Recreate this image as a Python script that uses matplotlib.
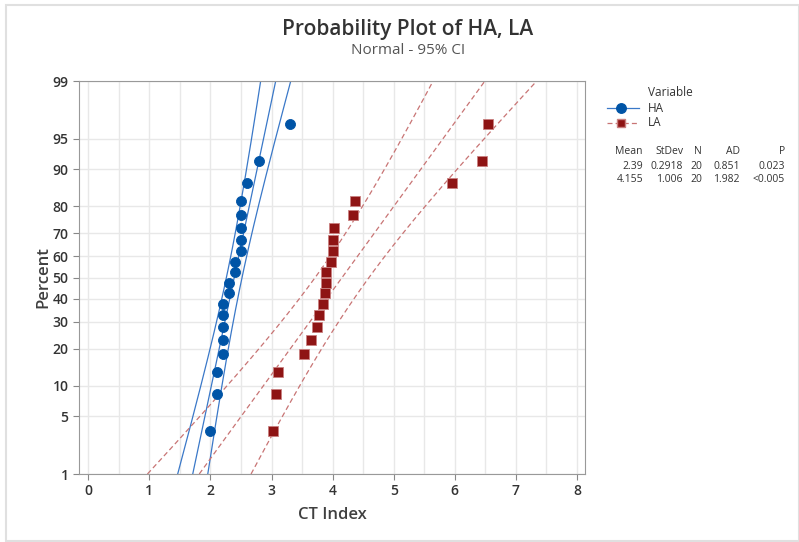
import numpy as np
import matplotlib
matplotlib.use("Agg")
import matplotlib.pyplot as plt
from matplotlib.patches import Rectangle
from statistics import NormalDist

# CT Index observations for the two groups
ha_values = [3.30, 2.80, 2.60, 2.50, 2.50, 2.50, 2.50, 2.50, 2.40, 2.40,
             2.30, 2.30, 2.20, 2.20, 2.20, 2.20, 2.20, 2.10, 2.10, 2.00]
la_values = [6.55, 6.45, 5.95, 4.37, 4.33, 4.02, 4.01, 4.00, 3.98, 3.90,
             3.89, 3.87, 3.85, 3.78, 3.75, 3.65, 3.54, 3.11, 3.08, 3.02]

series_names = ["HA", "LA"]
percent_ticks = [1, 5, 10, 20, 30, 40, 50, 60, 70, 80, 90, 95, 99]
x_ticks = [0, 1, 2, 3, 4, 5, 6, 7, 8]

# Goodness-of-fit summary shown beside the plot
table_header = ["Mean", "StDev", "N", "AD", "P"]
table_rows = [["2.39", "0.2918", "20", "0.851", "0.023"],
              ["4.155", "1.006", "20", "1.982", "<0.005"]]

nd = NormalDist()
z = np.vectorize(lambda p: nd.inv_cdf(p / 100.0))

font = ["Open Sans", "DejaVu Sans"]
plt.rcParams["font.family"] = font

fig = plt.figure(figsize=(7.99, 5.42), dpi=100)
ax = fig.add_axes([79 / 799, 1 - 474 / 542, (585 - 79) / 799, (474 - 81) / 542])

styles = {
    "HA": dict(marker="o", ms=7.2, mfc="#0054A6", mec="#0054A6",
               line="#3A78C8", ls="-", lw=0.9),
    "LA": dict(marker="s", ms=6.6, mfc="#8E1414", mec="#C98080",
               line="#C87474", ls=(0, (4, 2.5)), lw=0.9),
}

zlo, zhi = z(1), z(99)
zz = np.linspace(zlo, zhi, 200)

for name, vals in zip(series_names, [ha_values, la_values]):
    v = np.sort(np.array(vals))
    n = len(v)
    ranks = (np.arange(1, n + 1) - 0.3) / (n + 0.4) * 100
    mu = v.mean()
    sd = v.std(ddof=1)
    st = styles[name]
    fit = mu + sd * zz
    half = 1.96 * sd * np.sqrt(1.0 / n + zz ** 2 / (2.0 * n))
    for curve in (fit - half, fit, fit + half):
        ax.plot(curve, zz, color=st["line"], ls=st["ls"], lw=st["lw"], zorder=2)
    ax.plot(v, z(ranks), ls="none", marker=st["marker"], ms=st["ms"],
            mfc=st["mfc"], mec=st["mec"], mew=0.6, zorder=3)

ax.set_xlim(-0.15, 8.13)
ax.set_ylim(zlo, zhi)
ax.set_xticks(x_ticks)
ax.set_xticks(np.arange(0, 8.01, 0.5), minor=True)
ax.set_yticks(z(percent_ticks))
ax.set_yticklabels([str(p) for p in percent_ticks])
ax.grid(True, which="both", axis="x", color="#e8e8e8", lw=1.0, zorder=0)
ax.grid(True, which="major", axis="y", color="#e8e8e8", lw=1.0, zorder=0)
ax.tick_params(axis="x", which="minor", length=0)
ax.tick_params(axis="both", which="major", length=4, width=0.8, color="#888888",
               labelsize=10, labelcolor="#333333")
for lab in ax.get_xticklabels() + ax.get_yticklabels():
    lab.set_fontweight("semibold")
ax.set_axisbelow(True)
for s in ax.spines.values():
    s.set_color("#999999")
    s.set_linewidth(0.8)

ax.set_xlabel("CT Index", fontsize=12, fontweight="semibold", color="#404040", labelpad=6)
ax.set_ylabel("Percent", fontsize=12, fontweight="semibold", color="#404040", labelpad=1)

fig.text(408 / 799, 1 - 29 / 542, "Probability Plot of HA, LA", ha="center", va="center",
         fontsize=15, fontweight="semibold", color="#333333")
fig.text(408 / 799, 1 - 50 / 542, "Normal - 95% CI", ha="center", va="center",
         fontsize=11, color="#555555")

# Legend block
def fx(px):
    return px / 799

def fy(py):
    return 1 - py / 542

fig.text(fx(648), fy(93), "Variable", fontsize=8.5, color="#333333", va="center")
for name, py in zip(series_names, [108, 123]):
    st = styles[name]
    fig.add_artist(plt.Line2D([fx(607), fx(639)], [fy(py), fy(py)], color=st["line"],
                              ls=st["ls"], lw=st["lw"], transform=fig.transFigure))
    fig.add_artist(plt.Line2D([fx(621)], [fy(py)], marker=st["marker"], ms=st["ms"] * 0.95,
                              mfc=st["mfc"], mec=st["mec"], ls="none",
                              transform=fig.transFigure))
    fig.text(fx(648), fy(py), name, fontsize=8.5, color="#333333", va="center")

col_right = [643, 683, 702, 740, 785]
for j, h in enumerate(table_header):
    fig.text(fx(col_right[j]), fy(152), h, fontsize=7.5, color="#333333",
             ha="right", va="center")
for i, row in enumerate(table_rows):
    for j, cell in enumerate(row):
        fig.text(fx(col_right[j]), fy(167 + 13 * i), cell, fontsize=7.5, color="#333333",
                 ha="right", va="center")

# Outer frame
fig.add_artist(Rectangle((fx(6), fy(541)), fx(798.5) - fx(6), fy(5) - fy(541),
                         transform=fig.transFigure, fill=False, ec="#e0e0e0", lw=1.5))

fig.savefig("out.png", dpi=100)
